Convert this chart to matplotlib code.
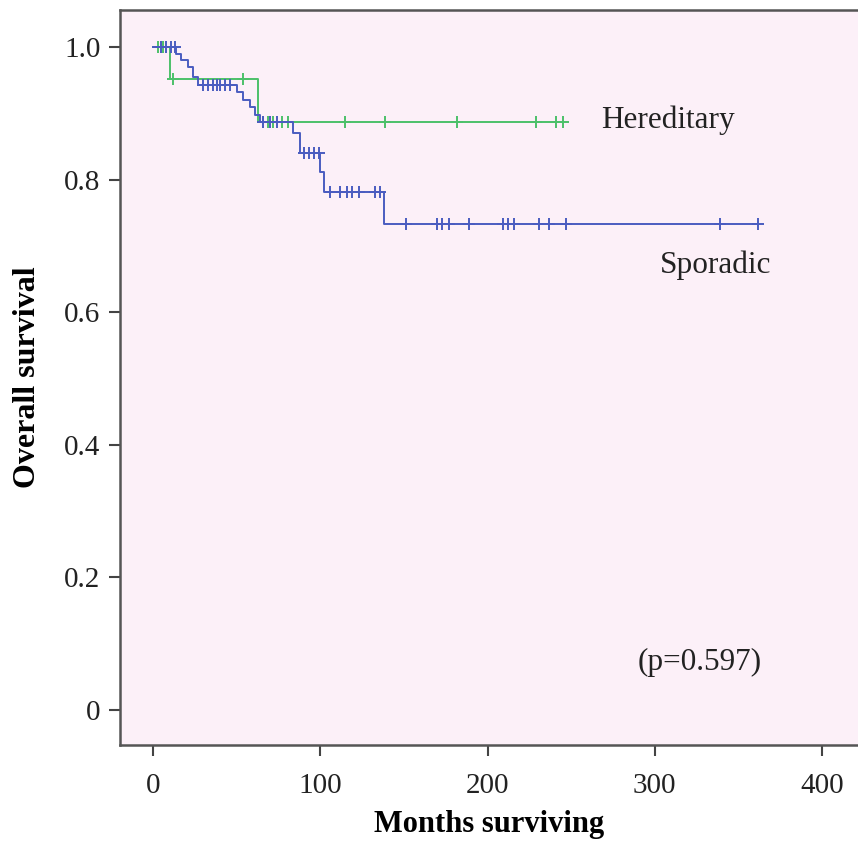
import numpy as np
import matplotlib.pyplot as plt

# Kaplan-Meier steps
spor_time = [0, 14, 17, 21, 24, 27, 50, 54, 58, 61, 64, 84, 88, 100, 102, 138, 362]
spor_surv = [1.0, 0.99, 0.98, 0.97, 0.955, 0.943, 0.932, 0.92, 0.91, 0.898, 0.887,
             0.87, 0.84, 0.812, 0.781, 0.733, 0.733]
spor_cens_t = [5, 8, 11, 13, 30, 33, 36, 38, 40, 43, 46, 66, 70, 74, 90, 93, 96, 99,
               106, 112, 116, 119, 123, 133, 136, 151, 170, 173, 177, 189, 209, 212,
               216, 231, 237, 247, 339, 362]

her_time = [0, 10, 63, 245]
her_surv = [1.0, 0.952, 0.887, 0.887]
her_cens_t = [3, 6, 12, 54, 66, 69, 72, 77, 81, 115, 139, 182, 229, 241, 245]

green = '#4cc06a'
blue = '#4a5cc0'


def surv_at(times, surv, t):
    idx = np.searchsorted(times, t, side='right') - 1
    return np.array(surv)[idx]


plt.rcParams['font.family'] = ['Liberation Serif', 'DejaVu Serif']

fig = plt.figure(figsize=(8.58, 8.42), dpi=100)
ax = fig.add_axes([0.1399, 0.1152, 0.8601, 0.8729])
ax.set_facecolor('#fcf0f8')

ax.plot(her_time, her_surv, drawstyle='steps-post', color=green, lw=1.4)
ax.plot(her_cens_t, surv_at(her_time, her_surv, her_cens_t), '+', color=green,
        ms=9, mew=1.4)
ax.plot(spor_time, spor_surv, drawstyle='steps-post', color=blue, lw=1.4)
ax.plot(spor_cens_t, surv_at(spor_time, spor_surv, spor_cens_t), '+', color=blue,
        ms=9, mew=1.4)

ax.set_xlim(-19.7, 421.5)
ax.set_ylim(-0.053, 1.056)

ax.set_xticks([0, 100, 200, 300, 400])
ax.set_xticklabels(['0', '100', '200', '300', '400'])
ax.set_yticks([0, 0.2, 0.4, 0.6, 0.8, 1.0])
ax.set_yticklabels(['0', '0.2', '0.4', '0.6', '0.8', '1.0'])
ax.tick_params(labelsize=21, length=8, width=1.5, color='#444444', pad=6,
               labelcolor='#222222')
ax.tick_params(axis='x', pad=12)

for s in ['left', 'bottom', 'top']:
    ax.spines[s].set_color('#555555')
    ax.spines[s].set_linewidth(1.8)
ax.spines['right'].set_visible(False)

ax.set_xlabel('Months surviving', fontsize=22, fontweight='bold', labelpad=8)
ax.set_ylabel('Overall survival', fontsize=23, fontweight='bold', labelpad=16)

ax.text(268, 0.89, 'Hereditary', fontsize=22.5, va='center', color='#222222')
ax.text(303, 0.671, 'Sporadic', fontsize=22.5, va='center', color='#222222')
ax.text(290, 0.072, '(p=0.597)', fontsize=22.5, va='center', color='#222222')

fig.savefig('out.png', dpi=100)
